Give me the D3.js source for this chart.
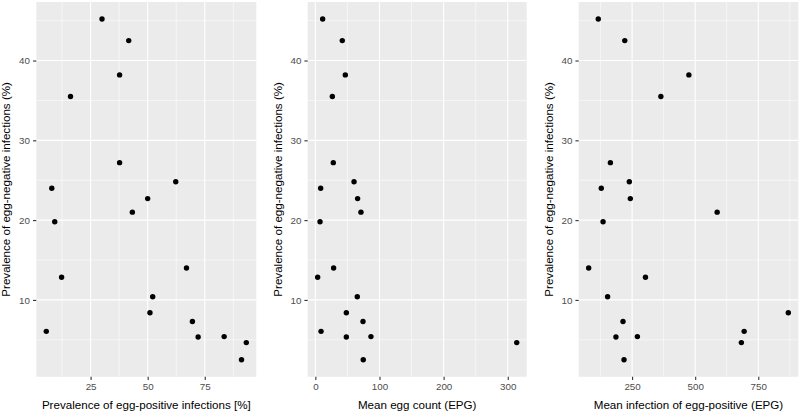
<!DOCTYPE html>
<html>
<head>
<meta charset="utf-8">
<script src="https://cdn.jsdelivr.net/npm/d3@7"></script>
<style>
  html, body { margin: 0; padding: 0; background: #fff; }
  svg { display: block; font-family: "Liberation Sans", Arial, sans-serif; }
</style>
</head>
<body>
<svg id="chart" width="800" height="414"></svg>
<script>
// Prevalence of egg-negative infections (%) — shared y for all panels
const negPrev = [45.2, 42.5, 38.2, 35.5, 27.2, 24.8, 24.0, 22.7, 21.0, 19.8, 14.0, 12.85, 10.4, 8.4, 7.3, 6.06, 5.35, 5.4, 4.65, 2.5];
// Panel 1 x: Prevalence of egg-positive infections [%]
const posPrev = [30.0, 41.7, 37.7, 16.2, 37.7, 62.3, 8.0, 50.0, 43.3, 9.3, 67.0, 12.3, 52.2, 51.0, 69.6, 5.6, 72.1, 83.5, 93.2, 91.1];
// Panel 2 x: Mean egg count (EPG)
const meanEgg = [11.4, 42.0, 46.7, 26.5, 28.0, 60.3, 8.3, 65.9, 71.1, 7.3, 28.5, 3.6, 65.4, 48.3, 74.3, 8.9, 48.3, 86.7, 314, 74.7];
// Panel 3 x: Mean infection of egg-positive (EPG)
const meanPos = [116, 221, 475, 364, 164, 239, 128, 243, 587, 135, 78, 303, 153, 869, 214, 694, 186, 271, 683, 218];

const yTicks = [10, 20, 30, 40];
const yMinor = [5, 15, 25, 35, 45];
const xTicks1 = [25, 50, 75];
const xMinor1 = [12.5, 37.5, 62.5, 87.5];
const xTicks2 = [0, 100, 200, 300];
const xMinor2 = [50, 150, 250];
const xTicks3 = [250, 500, 750];
const xMinor3 = [125, 375, 625, 875];

const xTitles = ["Prevalence of egg-positive infections [%]", "Mean egg count (EPG)", "Mean infection of egg-positive (EPG)"];
const yTitle = "Prevalence of egg-negative infections (%)";

const svg = d3.select("#chart");
const plotTop = 2, plotBottom = 376.8;

function expand(vals) {
  const [a, b] = d3.extent(vals);
  const pad = (b - a) * 0.05;
  return [a - pad, b + pad];
}

const y = d3.scaleLinear().domain(expand(negPrev)).range([plotBottom, plotTop]);

const panels = [
  { xs: posPrev, ticks: xTicks1, minor: xMinor1, title: xTitles[0], left: 36.3, right: 256.3 },
  { xs: meanEgg, ticks: xTicks2, minor: xMinor2, title: xTitles[1], left: 307.7, right: 526.7 },
  { xs: meanPos, ticks: xTicks3, minor: xMinor3, title: xTitles[2], left: 578.7, right: 798.3 }
];

panels.forEach(p => {
  const x = d3.scaleLinear().domain(expand(p.xs)).range([p.left, p.right]);
  const g = svg.append("g");
  const clipId = "clip" + Math.round(p.left);
  g.append("clipPath").attr("id", clipId).append("rect")
    .attr("x", p.left).attr("y", plotTop).attr("width", p.right - p.left).attr("height", plotBottom - plotTop);

  g.append("rect").attr("x", p.left).attr("y", plotTop)
    .attr("width", p.right - p.left).attr("height", plotBottom - plotTop).attr("fill", "#EBEBEB");

  const grid = g.append("g").attr("clip-path", `url(#${clipId})`);
  grid.selectAll(".ymin").data(yMinor).join("line")
    .attr("x1", p.left).attr("x2", p.right)
    .attr("y1", d => y(d)).attr("y2", d => y(d))
    .attr("stroke", "#fff").attr("stroke-width", 0.55);
  grid.selectAll(".xmin").data(p.minor).join("line")
    .attr("y1", plotTop).attr("y2", plotBottom)
    .attr("x1", d => x(d)).attr("x2", d => x(d))
    .attr("stroke", "#fff").attr("stroke-width", 0.55);
  grid.selectAll(".ymaj").data(yTicks).join("line")
    .attr("x1", p.left).attr("x2", p.right)
    .attr("y1", d => y(d)).attr("y2", d => y(d))
    .attr("stroke", "#fff").attr("stroke-width", 1.1);
  grid.selectAll(".xmaj").data(p.ticks).join("line")
    .attr("y1", plotTop).attr("y2", plotBottom)
    .attr("x1", d => x(d)).attr("x2", d => x(d))
    .attr("stroke", "#fff").attr("stroke-width", 1.1);

  const xAxis = d3.axisBottom(x).tickValues(p.ticks).tickSize(3.3).tickPadding(3).tickFormat(d3.format("d"));
  const xa = g.append("g").attr("transform", `translate(0,${plotBottom})`).call(xAxis);
  xa.select(".domain").remove();
  xa.selectAll(".tick line").attr("stroke", "#333333").attr("stroke-width", 1.1);
  xa.selectAll(".tick text").attr("fill", "#4D4D4D").attr("font-size", "9.8px")
    .attr("font-family", "Liberation Sans, Arial, sans-serif");

  const yAxis = d3.axisLeft(y).tickValues(yTicks).tickSize(3.3).tickPadding(3).tickFormat(d3.format("d"));
  const ya = g.append("g").attr("transform", `translate(${p.left},0)`).call(yAxis);
  ya.select(".domain").remove();
  ya.selectAll(".tick line").attr("stroke", "#333333").attr("stroke-width", 1.1);
  ya.selectAll(".tick text").attr("fill", "#4D4D4D").attr("font-size", "9.8px")
    .attr("font-family", "Liberation Sans, Arial, sans-serif");

  g.selectAll("circle.pt").data(p.xs.map((v, i) => [v, negPrev[i]])).join("circle")
    .attr("class", "pt")
    .attr("cx", d => x(d[0])).attr("cy", d => y(d[1])).attr("r", 2.7).attr("fill", "#000");

  g.append("text").attr("x", (p.left + p.right) / 2).attr("y", 409)
    .attr("text-anchor", "middle").attr("font-size", "11.6px").attr("fill", "#000")
    .text(p.title);
  g.append("text")
    .attr("transform", `translate(${p.left - 26},${(plotTop + plotBottom) / 2}) rotate(-90)`)
    .attr("text-anchor", "middle").attr("font-size", "11.6px").attr("fill", "#000")
    .text(yTitle);
});
</script>
</body>
</html>
